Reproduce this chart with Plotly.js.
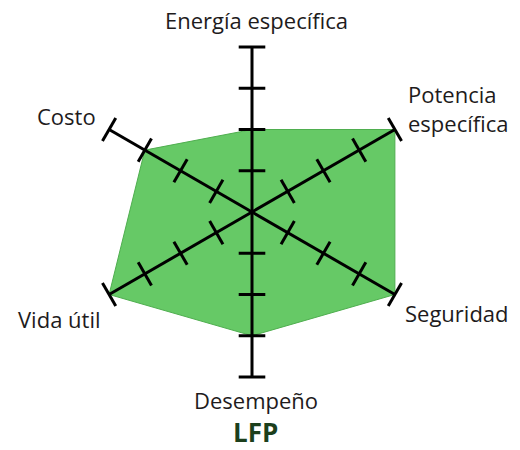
<!DOCTYPE html>
<html>
<head>
<meta charset="utf-8">
<script src="https://cdn.plot.ly/plotly-3.0.1.min.js"></script>
<style>
  html, body { margin: 0; padding: 0; background: #fff; }
  #chart { width: 520px; height: 450px; }
</style>
</head>
<body>
<div id="chart"></div>
<script>
// Radar profile of an LFP cell, six criteria on a 0-4 scale
const categories = ['Energía específica', 'Potencia específica', 'Seguridad', 'Desempeño', 'Vida útil', 'Costo'];
const lfpValues = [2, 4, 4, 3, 4, 3];
const tickLevels = [1, 2, 3, 4];
const axisMax = 4;
const chartTitle = 'LFP';

// Axis captions and where they sit (paper pixels, from top-left)
const captionText = ['Energía específica', 'Potencia<br>específica', 'Seguridad', 'Desempeño', 'Vida útil', 'Costo'];
const captionPos = [
  { x: 256, y: 20, xanchor: 'center', align: 'center' },
  { x: 406, y: 108, xanchor: 'left', align: 'left' },
  { x: 457, y: 313, xanchor: 'center', align: 'center' },
  { x: 256, y: 400, xanchor: 'center', align: 'center' },
  { x: 59, y: 319, xanchor: 'center', align: 'center' },
  { x: 66, y: 116, xanchor: 'center', align: 'center' }
];

const W = 520, H = 450;
const textColor = '#1e1b1c';
const step = 360 / categories.length;

// Closed polygon of the values
const areaTrace = {
  type: 'scatterpolar',
  mode: 'lines',
  r: lfpValues.concat([lfpValues[0]]),
  theta: categories.concat([categories[0]]),
  fill: 'toself',
  fillcolor: '#66c966',
  line: { color: '#4fae4f', width: 1 },
  hoverinfo: 'skip',
  cliponaxis: false
};

// One spoke per criterion, from the centre to the top of the scale
const spokeR = [], spokeT = [];
categories.forEach(c => { spokeR.push(0, axisMax, null); spokeT.push(c, c, null); });
const spokeTrace = {
  type: 'scatterpolar',
  mode: 'lines',
  r: spokeR,
  theta: spokeT,
  connectgaps: false,
  line: { color: '#000', width: 3 },
  hoverinfo: 'skip',
  cliponaxis: false
};

// Tick marks across each spoke, turned perpendicular to it
const tickR = [], tickT = [], tickA = [];
categories.forEach((c, i) => {
  tickLevels.forEach(l => { tickR.push(l); tickT.push(c); tickA.push(i * step); });
});
const tickTrace = {
  type: 'scatterpolar',
  mode: 'markers',
  r: tickR,
  theta: tickT,
  marker: {
    symbol: 'line-ew',
    size: 19,
    angle: tickA,
    line: { color: '#000', width: 3 }
  },
  hoverinfo: 'skip',
  cliponaxis: false
};

const annotations = captionText.map((t, i) => ({
  text: t,
  xref: 'paper', yref: 'paper',
  x: captionPos[i].x / W,
  y: 1 - captionPos[i].y / H,
  xanchor: captionPos[i].xanchor,
  yanchor: 'middle',
  align: captionPos[i].align,
  showarrow: false,
  font: { family: 'Open Sans, sans-serif', size: 22, color: textColor }
}));
annotations.push({
  text: '<b>' + chartTitle + '</b>',
  xref: 'paper', yref: 'paper',
  x: 255 / W, y: 1 - 431.5 / H,
  xanchor: 'center', yanchor: 'middle',
  borderpad: 0,
  showarrow: false,
  font: { family: 'Open Sans, sans-serif', size: 26, color: '#1c3f1c' }
});

const cx = 252, cy = 212, rad = 165;
const layout = {
  width: W, height: H,
  margin: { l: 0, r: 0, t: 0, b: 0 },
  paper_bgcolor: '#fff',
  showlegend: false,
  dragmode: false,
  polar: {
    domain: { x: [(cx - rad) / W, (cx + rad) / W], y: [1 - (cy + rad) / H, 1 - (cy - rad) / H] },
    bgcolor: 'rgba(0,0,0,0)',
    radialaxis: { visible: false, range: [0, axisMax] },
    angularaxis: {
      visible: false,
      type: 'category',
      categoryorder: 'array',
      categoryarray: categories,
      rotation: 90,
      direction: 'clockwise'
    }
  },
  annotations: annotations
};

Plotly.newPlot('chart', [areaTrace, spokeTrace, tickTrace], layout, { staticPlot: true });
</script>
</body>
</html>
